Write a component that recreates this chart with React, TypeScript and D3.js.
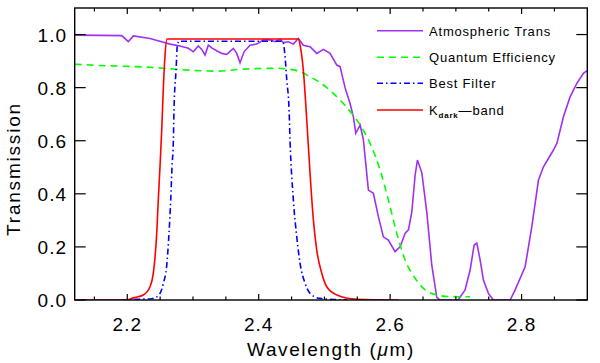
import * as d3 from 'd3';

// atmospheric transmission (purple)
const atmWave = [2.12, 2.1915, 2.2016, 2.2092, 2.2346, 2.2524, 2.2651, 2.2801, 2.2929, 2.3005, 2.3081, 2.3133, 2.3183, 2.3233, 2.3285, 2.3361, 2.3437, 2.3514, 2.3614, 2.3666, 2.3716, 2.3777, 2.3868, 2.397, 2.4071, 2.4173, 2.4249, 2.4325, 2.4375, 2.4451, 2.4527, 2.4603, 2.4679, 2.4781, 2.4883, 2.4984, 2.5086, 2.5188, 2.5238, 2.5314, 2.539, 2.5441, 2.5477, 2.5543, 2.5593, 2.5669, 2.5745, 2.5821, 2.5897, 2.5973, 2.6075, 2.6151, 2.6227, 2.6278, 2.6329, 2.638, 2.6415, 2.6482, 2.6558, 2.6634, 2.671, 2.676, 2.7034, 2.714, 2.7217, 2.7278, 2.7319, 2.7369, 2.7419, 2.7495, 2.7571, 2.7826, 2.7902, 2.8054, 2.8156, 2.8257, 2.8333, 2.8485, 2.8537, 2.8637, 2.8739, 2.8841, 2.8941, 2.8997];
const atmTrans = [0.998, 0.996, 0.973, 0.995, 0.985, 0.973, 0.964, 0.957, 0.948, 0.935, 0.957, 0.944, 0.923, 0.96, 0.95, 0.939, 0.929, 0.925, 0.948, 0.929, 0.894, 0.935, 0.96, 0.964, 0.98, 0.98, 0.973, 0.982, 0.97, 0.973, 0.964, 0.985, 0.96, 0.954, 0.929, 0.944, 0.929, 0.885, 0.879, 0.8, 0.74, 0.69, 0.628, 0.659, 0.603, 0.414, 0.402, 0.314, 0.238, 0.226, 0.182, 0.2, 0.251, 0.264, 0.33, 0.47, 0.527, 0.48, 0.33, 0.13, 0.01, 0, 0, 0.038, 0.113, 0.207, 0.214, 0.151, 0.075, 0.025, 0, 0, 0.038, 0.125, 0.276, 0.452, 0.502, 0.565, 0.59, 0.69, 0.766, 0.816, 0.854, 0.864];

// quantum efficiency (green dashed)
const qeWave = [2.12, 2.1433, 2.2448, 2.2753, 2.3361, 2.3716, 2.4275, 2.4579, 2.4781, 2.4984, 2.5238, 2.5416, 2.5543, 2.5695, 2.5847, 2.5973, 2.6101, 2.6227, 2.638, 2.6506, 2.671, 2.6913, 2.7217];
const qeVals = [0.888, 0.885, 0.875, 0.869, 0.862, 0.869, 0.873, 0.864, 0.841, 0.81, 0.753, 0.703, 0.659, 0.59, 0.49, 0.377, 0.251, 0.151, 0.082, 0.044, 0.019, 0.013, 0.012];

// best filter (blue dash-dot)
const filtWave = [2.19, 2.2194, 2.2346, 2.2448, 2.2524, 2.2549, 2.26, 2.2635, 2.2661, 2.2681, 2.2701, 2.2711, 2.2742, 2.2762, 2.2788, 2.4366, 2.4401, 2.4427, 2.4462, 2.4477, 2.4527, 2.4579, 2.4629, 2.4705, 2.4781, 2.4934, 2.5345];
const filtVals = [0, 0.003, 0.004, 0.012, 0.04, 0.063, 0.13, 0.251, 0.377, 0.502, 0.6, 0.716, 0.866, 0.96, 0.975, 0.975, 0.916, 0.829, 0.716, 0.6, 0.377, 0.238, 0.138, 0.063, 0.025, 0.006, 0];

// Kdark band (red)
const kWave = [2.125, 2.2, 2.2092, 2.2244, 2.2346, 2.2396, 2.2448, 2.2472, 2.2498, 2.2524, 2.2549, 2.2574, 2.2605, 2.4603, 2.4637, 2.4679, 2.4731, 2.4781, 2.4832, 2.4883, 2.496, 2.5036, 2.5188, 2.5492, 2.6126];
const kVals = [0, 0, 0.008, 0.019, 0.05, 0.1, 0.251, 0.377, 0.502, 0.64, 0.8, 0.92, 0.983, 0.983, 0.95, 0.866, 0.678, 0.478, 0.301, 0.188, 0.1, 0.05, 0.019, 0.003, 0];

const xTicks = [2.2, 2.4, 2.6, 2.8];
const xMinor = [2.15, 2.25, 2.3, 2.35, 2.45, 2.5, 2.55, 2.65, 2.7, 2.75, 2.85];
const yTicks = [0, 0.2, 0.4, 0.6, 0.8, 1.0];

const legendItems = ['Atmospheric Trans', 'Quantum Efficiency', 'Best Filter', 'Kdark-band'];

const W = 600;
const H = 363;
const m = { left: 74.7, right: 587.3, top: 8, bottom: 300 };
const font = "'Liberation Sans', Arial, Helvetica, sans-serif";

const App = () => {
  const x = d3.scaleLinear().domain([2.12, 2.9]).range([m.left, m.right]);
  const y = d3.scaleLinear().domain([0, 1.1]).range([m.bottom, m.top]);

  const mk = (xs: number[], ys: number[], curve: d3.CurveFactory) =>
    d3
      .line<number>()
      .x((d) => x(d))
      .y((_d, i) => y(ys[i]))
      .curve(curve)(xs) || '';

  const series = [
    { d: mk(atmWave, atmTrans, d3.curveLinear), color: '#a030f0', dash: 'none' },
    { d: mk(qeWave, qeVals, d3.curveMonotoneX), color: '#00ff00', dash: '7,5' },
    { d: mk(filtWave, filtVals, d3.curveMonotoneX), color: '#0000ff', dash: '6,3,1.5,3' },
    { d: mk(kWave, kVals, d3.curveMonotoneX), color: '#ff0000', dash: 'none' },
  ];

  const legendY = [30.7, 57.3, 83.3, 110];

  return (
    <svg
      width={W}
      height={H}
      style={{ position: 'absolute', left: 0, top: 0, background: '#fff' }}
      fontFamily={font}
    >
      <defs>
        <clipPath id="plot">
          <rect x={m.left} y={m.top} width={m.right - m.left} height={m.bottom - m.top} />
        </clipPath>
      </defs>

      <g clipPath="url(#plot)">
        {series.map((s, i) => (
          <path key={i} d={s.d} fill="none" stroke={s.color} strokeWidth={1.6} strokeDasharray={s.dash} />
        ))}
      </g>

      {/* frame */}
      <rect
        x={m.left}
        y={m.top}
        width={m.right - m.left}
        height={m.bottom - m.top}
        fill="none"
        stroke="#000"
        strokeWidth={1.4}
      />

      {/* x ticks, bottom and top */}
      {xTicks.map((t) => (
        <g key={'xt' + t}>
          <line x1={x(t)} x2={x(t)} y1={m.bottom} y2={m.bottom - 6} stroke="#000" strokeWidth={1.2} />
          <line x1={x(t)} x2={x(t)} y1={m.top} y2={m.top + 6} stroke="#000" strokeWidth={1.2} />
          <text x={x(t)} y={331} textAnchor="middle" fontSize={19} letterSpacing={1} fill="#000">
            {t.toFixed(1)}
          </text>
        </g>
      ))}
      {xMinor.map((t) => (
        <g key={'xm' + t}>
          <line x1={x(t)} x2={x(t)} y1={m.bottom} y2={m.bottom - 3.5} stroke="#000" strokeWidth={1.2} />
          <line x1={x(t)} x2={x(t)} y1={m.top} y2={m.top + 3.5} stroke="#000" strokeWidth={1.2} />
        </g>
      ))}

      {/* y ticks, left and right */}
      {yTicks.map((t) => (
        <g key={'yt' + t}>
          <line x1={m.left} x2={m.left + 11} y1={y(t)} y2={y(t)} stroke="#000" strokeWidth={1.2} />
          <line x1={m.right} x2={m.right - 11} y1={y(t)} y2={y(t)} stroke="#000" strokeWidth={1.2} />
          <text x={67} y={y(t) + 7} textAnchor="end" fontSize={19} letterSpacing={1} fill="#000">
            {t.toFixed(1)}
          </text>
        </g>
      ))}

      {/* axis titles */}
      <text x={(m.left + m.right) / 2} y={356} textAnchor="middle" fontSize={19} letterSpacing={1.6} fill="#000">
        Wavelength (<tspan fontStyle="italic">μ</tspan>m)
      </text>
      <text
        transform={`translate(20,169) rotate(-90)`}
        textAnchor="middle"
        fontSize={19}
        letterSpacing={1.8}
        fill="#000"
      >
        Transmission
      </text>

      {/* legend */}
      {series.map((s, i) => (
        <g key={'lg' + i}>
          <line
            x1={377}
            x2={423}
            y1={legendY[i]}
            y2={legendY[i]}
            stroke={s.color}
            strokeWidth={1.6}
            strokeDasharray={s.dash}
          />
          <text x={429} y={legendY[i] + 5} fontSize={13} letterSpacing={0.8} fill="#000">
            {i === 3 ? (
              <>
                K
                <tspan fontSize={8} fontWeight="bold" dy={3}>
                  dark
                </tspan>
                <tspan dy={-3}>—band</tspan>
              </>
            ) : (
              legendItems[i]
            )}
          </text>
        </g>
      ))}
    </svg>
  );
};

export default App;
